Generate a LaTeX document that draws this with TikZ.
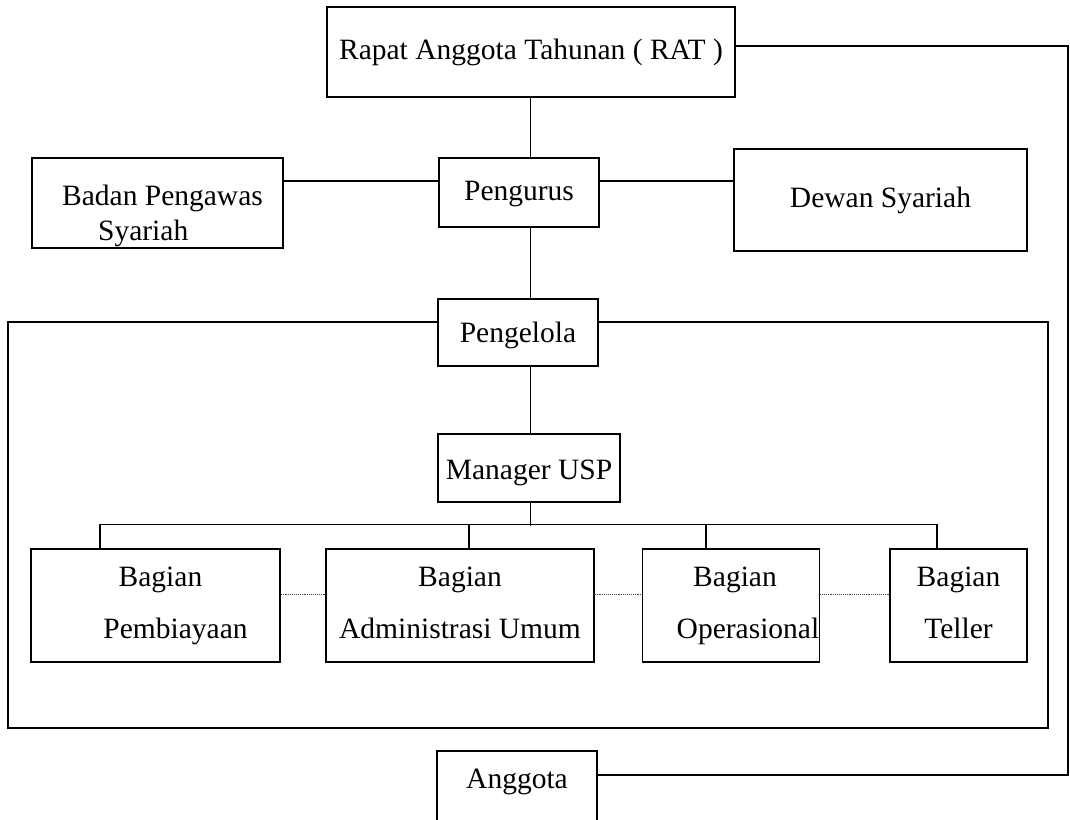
\documentclass[tikz,border=0pt]{standalone}
\usepackage{fontspec}
\setmainfont{Liberation Serif}
\usepackage{tikz}

% move a line of text up or down without changing its size
\newcommand{\shiftdown}[2]{\raisebox{-#1}[\height][\depth]{#2}}

\tikzset{
	box/.style={draw, fill=white, line width=1.5pt, inner sep=0pt, align=center, font=\fontsize{29.5}{35}\selectfont},
	unit/.style={box, minimum height=113pt, font=\fontsize{29.5}{52}\selectfont},
	link/.style={line width=1.5pt},
	dots/.style={densely dotted, line width=0.9pt, black!75}
}

\begin{document}
\begin{tikzpicture}[x=1pt,y=-1pt]
	\useasboundingbox (0,0) rectangle (1070,819);
	\clip (0,0) rectangle (1070,819);
	% Frame round the managers
	\draw[link] (8,322) rectangle (1048,728);
	% Boxes
	\node[box, minimum width=408pt, minimum height=90pt] (rat) at (531,52) {Rapat Anggota Tahunan ( RAT )};
	\node[box, minimum width=251pt, minimum height=90pt, align=left] (bps) at (157.5,203) {\shiftdown{13pt}{\hspace*{10pt}Badan Pengawas}\\\shiftdown{13pt}{\hspace*{46pt}Syariah}};
	\node[box, minimum width=160pt, minimum height=69pt] (pengurus) at (519,192.5) {\shiftdown{2pt}{Pengurus}};
	\node[box, minimum width=293pt, minimum height=102pt] (dewan) at (880.5,200) {Dewan Syariah};
	\node[box, minimum width=160pt, minimum height=67pt] (pengelola) at (518,332.5) {\shiftdown{3pt}{Pengelola}};
	\node[box, minimum width=182pt, minimum height=68pt] (manager) at (529,468) {\shiftdown{5pt}{Manager USP}};
	\node[unit, minimum width=249pt] (pemb) at (155.5,605.5) {\hspace*{10pt}Bagian\\\hspace*{40pt}Pembiayaan};
	\node[unit, minimum width=268pt] (admin) at (460,605.5) {Bagian\\Administrasi Umum\vphantom{y}};
	\node[unit, minimum width=176pt] (oper) at (731,605.5) {\hspace*{8pt}Bagian\\\hspace*{34pt}Operasional};
	\node[unit, minimum width=137pt] (teller) at (958.5,605.5) {Bagian\\Teller\vphantom{y}};
	\node[box, minimum width=160pt, minimum height=84pt] (anggota) at (517,793) {\shiftdown{-11pt}{Anggota}};
	% Lines
	\coordinate (spine) at (530.5,0);
	\coordinate (midrow) at (0,181);
	\coordinate (edge) at (1068,0);
	\draw[link] (spine |- rat.south) -- (spine |- pengurus.north);
	\draw[link] (spine |- pengurus.south) -- (spine |- pengelola.north);
	\draw[link] (spine |- pengelola.south) -- (spine |- manager.north);
	\draw[link] (bps.east |- midrow) -- (pengurus.west |- midrow);
	\draw[link] (pengurus.east |- midrow) -- (dewan.west |- midrow);
	% Bus to the four parts
	\draw[link] ([xshift=-55.5pt]pemb.north) -- ++(0,-24) -| ([xshift=-21.5pt]teller.north);
	\draw[link] (spine |- manager.south) -- ++(0,23);
	\draw[link] ([xshift=9pt]admin.north) -- ++(0,-24);
	\draw[link] ([xshift=-25pt]oper.north) -- ++(0,-24);
	\draw[dots] ([yshift=11.5pt]pemb.east) -- ([yshift=11.5pt]admin.west);
	\draw[dots] ([yshift=11.5pt]admin.east) -- ([yshift=11.5pt]oper.west);
	\draw[dots] ([yshift=11.5pt]oper.east) -- ([yshift=11.5pt]teller.west);
	% RAT to Anggota along the right side
	\coordinate (ratout) at ([yshift=6pt]rat.east);
	\coordinate (angin) at ([yshift=18pt]anggota.east);
	\draw[link] (ratout) -- (ratout -| edge) -- (angin -| edge) -- (angin);
\end{tikzpicture}
\end{document}
